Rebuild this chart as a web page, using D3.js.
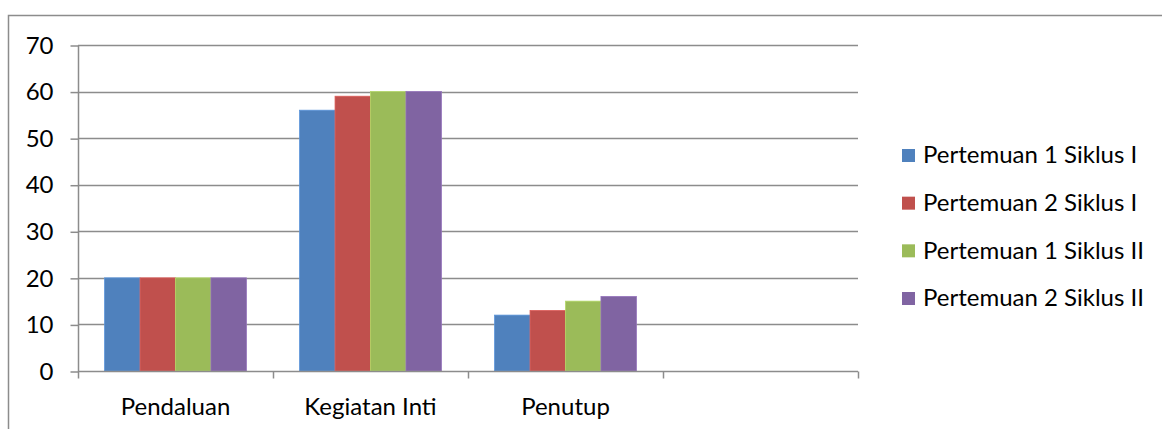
<!DOCTYPE html>
<html>
<head>
<meta charset="utf-8">
<script src="https://cdn.jsdelivr.net/npm/d3@7"></script>
<style>
  html, body { margin: 0; padding: 0; background: #fff; }
  svg { display: block; }
  text { font-family: "Lato", "Open Sans", sans-serif; fill: #000; }
</style>
</head>
<body>
<svg id="chart" width="1162" height="429"></svg>
<script>
// Categories (the fourth slot is an empty category on the axis)
const categories = ["Pendaluan", "Kegiatan Inti", "Penutup", ""];
const seriesNames = ["Pertemuan 1 Siklus I", "Pertemuan 2 Siklus I", "Pertemuan 1 Siklus II", "Pertemuan 2 Siklus II"];
const pertemuan1SiklusI  = [20, 56, 12, null];
const pertemuan2SiklusI  = [20, 59, 13, null];
const pertemuan1SiklusII = [20, 60, 15, null];
const pertemuan2SiklusII = [20, 60, 16, null];
const yTicks = [0, 10, 20, 30, 40, 50, 60, 70];
const colors = ["#4F81BD", "#C0504D", "#9BBB59", "#8064A2"];

const seriesValues = [pertemuan1SiklusI, pertemuan2SiklusI, pertemuan1SiklusII, pertemuan2SiklusII];
const FONT = 24;

const svg = d3.select("#chart");

// outer chart border
svg.append("rect")
  .attr("x", 8.5).attr("y", 15.5)
  .attr("width", 1170).attr("height", 430)
  .attr("fill", "none").attr("stroke", "#8c8c8c").attr("stroke-width", 1.5);

const plot = { left: 78, right: 858, top: 45, bottom: 371 };

const x = d3.scaleBand().domain(d3.range(categories.length))
  .range([plot.left, plot.right]).paddingInner(0).paddingOuter(0);

const y = d3.scaleLinear().domain([0, 70]).range([plot.bottom, plot.top]);

// horizontal gridlines
svg.append("g").selectAll("line").data(yTicks.filter(d => d > 0)).join("line")
  .attr("x1", plot.left).attr("x2", plot.right)
  .attr("y1", d => Math.round(y(d)) + 0.5).attr("y2", d => Math.round(y(d)) + 0.5)
  .attr("stroke", "#8c8c8c").attr("stroke-width", 1.5);

// bars: 4 bars per category with a 150% gap split on both sides
const barW = x.bandwidth() / 5.5;
seriesValues.forEach((vals, si) => {
  svg.append("g").selectAll("rect").data(vals.map((v, i) => ({ v, i })).filter(d => d.v != null)).join("rect")
    .attr("x", d => x(d.i) + barW * 0.75 + si * barW)
    .attr("y", d => y(d.v))
    .attr("width", barW)
    .attr("height", d => y(0) - y(d.v))
    .attr("fill", colors[si])
    .attr("stroke", d3.color(colors[si]).brighter(0.4))
    .attr("stroke-width", 0.8);
});

// y axis
const yAxis = d3.axisLeft(y).tickValues(yTicks).tickSize(8).tickPadding(17);
const gy = svg.append("g").attr("transform", `translate(${plot.left + 0.5},0.5)`).call(yAxis);
gy.select(".domain").attr("stroke", "#8c8c8c").attr("stroke-width", 1.5).attr("d", `M0,${plot.top}V${plot.bottom}`);
gy.selectAll(".tick line").attr("stroke", "#8c8c8c").attr("stroke-width", 1.5);
gy.selectAll(".tick text").attr("font-size", FONT).attr("font-family", "Lato, 'Open Sans', sans-serif").attr("fill", "#000");

// x axis
const xAxis = d3.axisBottom(x).tickFormat(i => categories[i]).tickSize(0).tickPadding(26);
const gx = svg.append("g").attr("transform", `translate(0,${plot.bottom + 0.5})`).call(xAxis);
gx.select(".domain").attr("stroke", "#8c8c8c").attr("stroke-width", 1.5).attr("d", `M${plot.left},0H${plot.right}`);
gx.selectAll(".tick text").attr("font-size", FONT).attr("font-family", "Lato, 'Open Sans', sans-serif").attr("fill", "#000");

// category boundary ticks
const boundaries = d3.range(categories.length + 1).map(i => plot.left + i * x.bandwidth());
gx.append("g").selectAll("line").data(boundaries).join("line")
  .attr("x1", d => Math.round(d) + 0.5).attr("x2", d => Math.round(d) + 0.5)
  .attr("y1", 0).attr("y2", 7)
  .attr("stroke", "#8c8c8c").attr("stroke-width", 1.5);

// legend
const legend = svg.append("g");
const legendY = d3.scaleLinear().domain([0, 3]).range([155, 298]);
seriesNames.forEach((name, i) => {
  const g = legend.append("g").attr("transform", `translate(902,${legendY(i)})`);
  g.append("rect").attr("x", 0).attr("y", -6).attr("width", 13).attr("height", 13).attr("fill", colors[i]);
  g.append("text").attr("x", 21).attr("y", 0).attr("dy", "0.35em")
    .attr("font-size", FONT).text(name);
});
</script>
</body>
</html>
